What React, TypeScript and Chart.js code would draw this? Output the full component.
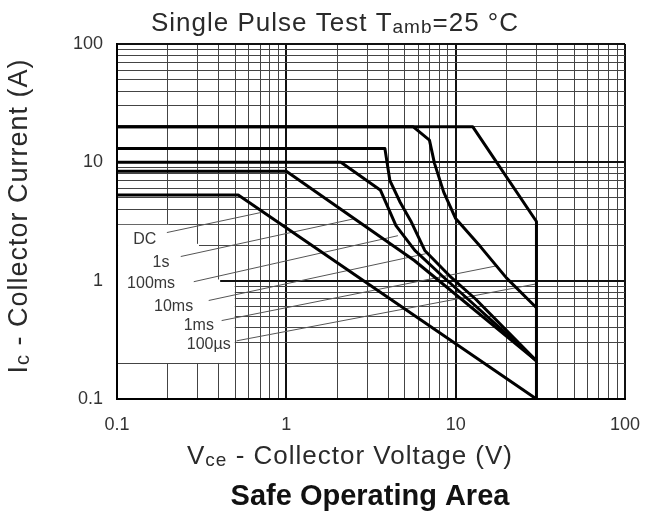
import React, { useEffect, useRef } from 'react';
import { Chart, registerables } from 'chart.js';

Chart.register(...registerables);

// ---- grid / tick values ----
const gridValues = [
  0.1, 0.2, 0.3, 0.4, 0.5, 0.6, 0.7, 0.8, 0.9,
  1, 2, 3, 4, 5, 6, 7, 8, 9,
  10, 20, 30, 40, 50, 60, 70, 80, 90,
  100,
];
const decadeValues = [0.1, 1, 10, 100];
const tickLabels = ['0.1', '1', '10', '100'];

// ---- SOA curves (Vce in V, Ic in A) ----
const v100us = [0.1, 12.6, 30, 30];
const i100us = [20, 20, 3.16, 0.1];

const v1ms = [0.1, 5.6, 7.0, 7.5, 8.5, 10, 14, 20, 30];
const i1ms = [20, 20, 15.4, 9.8, 5.6, 3.35, 1.94, 1.05, 0.59];

const v10ms = [0.1, 3.82, 4.09, 4.7, 5.43, 6.57, 9.2, 13.1, 30];
const i10ms = [13.1, 13.1, 7.0, 4.6, 3.2, 1.8, 1.1, 0.7, 0.21];

const v100ms = [0.1, 2.1, 3.6, 4.44, 5.74, 8.3, 11.8, 30];
const i100ms = [10, 10, 5.8, 2.92, 1.8, 1.1, 0.7, 0.21];

const v1s = [0.1, 1, 5.7, 30];
const i1s = [8.4, 8.4, 1.48, 0.21];

const vDC = [0.1, 0.52, 30];
const iDC = [5.3, 5.3, 0.1];

// ---- curve labels and leader lines ----
const labelTexts = ['DC', '1s', '100ms', '10ms', '1ms', '100µs'];
const labelV = [0.146, 0.182, 0.159, 0.216, 0.304, 0.348];
const labelI = [2.23, 1.42, 0.94, 0.6, 0.42, 0.29];
const leaderStartV = [0.197, 0.238, 0.284, 0.348, 0.415, 0.508];
const leaderStartI = [2.55, 1.6, 0.98, 0.68, 0.46, 0.31];
const leaderEndV = [0.71, 2.55, 4.56, 6.66, 17.7, 30];
const leaderEndI = [3.77, 3.35, 2.4, 1.69, 1.34, 0.94];

// ---- stepped blank area behind the labels (grid cut away): right V, top I ----
const blankRightV = [0.2, 0.3, 0.4, 0.5];
const blankTopI = [3, 2, 1, 0.9];
const blankBottomI = 0.2;

const FONT = '"Liberation Sans", Arial, Helvetica, sans-serif';

type Part = { t: string; sub?: boolean };

function drawRich(
  ctx: CanvasRenderingContext2D,
  parts: Part[],
  cx: number,
  y: number,
  size: number,
  subSize: number,
  subShift: number,
  weight = 'normal'
) {
  const widths = parts.map((p) => {
    ctx.font = `${weight} ${p.sub ? subSize : size}px ${FONT}`;
    return ctx.measureText(p.t).width;
  });
  const total = widths.reduce((a, b) => a + b, 0);
  let x = cx - total / 2;
  ctx.textAlign = 'left';
  parts.forEach((p, k) => {
    ctx.font = `${weight} ${p.sub ? subSize : size}px ${FONT}`;
    ctx.fillText(p.t, x, p.sub ? y + subShift : y);
    x += widths[k];
  });
}

const zip = (vs: number[], is: number[]) => vs.map((v, k) => ({ x: v, y: is[k] }));

const maskPlugin = {
  id: 'labelMask',
  beforeDatasetsDraw(chart: any) {
    const ctx: CanvasRenderingContext2D = chart.ctx;
    const xs = chart.scales.x;
    const ys = chart.scales.y;
    const left = chart.chartArea.left + 1.2;
    const bottom = ys.getPixelForValue(blankBottomI) - 0.6;
    ctx.save();
    ctx.fillStyle = '#fff';
    blankRightV.forEach((v, k) => {
      const last = k === blankRightV.length - 1;
      const right = xs.getPixelForValue(v) + (last ? -0.6 : 1.2);
      const top = ys.getPixelForValue(blankTopI[k]) + (k === 0 ? 0.6 : -1.2);
      ctx.fillRect(left, top, right - left, bottom - top);
    });
    ctx.restore();
  },
};

const textPlugin = {
  id: 'soaTexts',
  afterDraw(chart: any) {
    const ctx: CanvasRenderingContext2D = chart.ctx;
    const xs = chart.scales.x;
    const ys = chart.scales.y;
    ctx.save();
    ctx.fillStyle = '#2a2a2a';
    ctx.textBaseline = 'alphabetic';
    (ctx as any).letterSpacing = '1px';
    // title
    drawRich(ctx, [{ t: 'Single Pulse Test T' }, { t: 'amb', sub: true }, { t: '=25 °C' }], 335, 31, 26, 19, 2);
    // x title
    drawRich(ctx, [{ t: 'V' }, { t: 'ce', sub: true }, { t: ' - Collector Voltage (V)' }], 350, 464, 26, 19, 2);
    // y title
    ctx.save();
    ctx.translate(27, 216);
    ctx.rotate(-Math.PI / 2);
    drawRich(ctx, [{ t: 'I' }, { t: 'c', sub: true }, { t: ' - Collector Current (A)' }], 0, 0, 27, 20, 2);
    ctx.restore();
    (ctx as any).letterSpacing = '0px';
    // bottom caption
    ctx.fillStyle = '#111';
    drawRich(ctx, [{ t: 'Safe Operating Area' }], 370, 505, 29, 29, 0, 'bold');
    // curve labels
    ctx.fillStyle = '#383838';
    ctx.font = `16px ${FONT}`;
    ctx.textAlign = 'center';
    ctx.textBaseline = 'middle';
    labelTexts.forEach((t, k) => {
      ctx.fillText(t, xs.getPixelForValue(labelV[k]), ys.getPixelForValue(labelI[k]));
    });
    ctx.restore();
  },
};

export default function App() {
  const ref = useRef<HTMLCanvasElement | null>(null);

  useEffect(() => {
    if (!ref.current) return;
    const curveStyle = {
      borderColor: '#000',
      borderWidth: 3,
      pointRadius: 0,
      fill: false,
      tension: 0,
      borderJoinStyle: 'round',
    };
    const datasets: any[] = [
      { label: '100µs', data: zip(v100us, i100us), ...curveStyle },
      { label: '1ms', data: zip(v1ms, i1ms), ...curveStyle },
      { label: '10ms', data: zip(v10ms, i10ms), ...curveStyle },
      { label: '100ms', data: zip(v100ms, i100ms), ...curveStyle },
      { label: '1s', data: zip(v1s, i1s), ...curveStyle },
      { label: 'DC', data: zip(vDC, iDC), ...curveStyle },
    ];
    labelTexts.forEach((t, k) => {
      datasets.push({
        label: 'leader ' + t,
        data: [
          { x: leaderStartV[k], y: leaderStartI[k] },
          { x: leaderEndV[k], y: leaderEndI[k] },
        ],
        borderColor: '#555',
        borderWidth: 1,
        pointRadius: 0,
        fill: false,
      });
    });

    const gridColor = (c: any) =>
      c.tick && decadeValues.includes(c.tick.value) ? '#111' : '#444';
    const gridWidth = (c: any) =>
      c.tick && decadeValues.includes(c.tick.value) ? 2 : 1;
    const setTicks = (scale: any) => {
      scale.ticks = gridValues.map((v) => ({ value: v, major: decadeValues.includes(v) }));
    };
    const tickCb = (value: any) => {
      const k = decadeValues.indexOf(Number(value));
      return k >= 0 ? tickLabels[k] : '';
    };

    const chart = new Chart(ref.current, {
      type: 'line',
      data: { datasets },
      plugins: [maskPlugin, textPlugin],
      options: {
        responsive: false,
        animation: false,
        layout: { padding: { left: 0, right: 23, top: 44, bottom: 0 } },
        plugins: {
          legend: { display: false },
          tooltip: { enabled: false },
          title: { display: false },
        },
        scales: {
          x: {
            type: 'logarithmic',
            min: 0.1,
            max: 100,
            afterBuildTicks: setTicks,
            afterFit: (s: any) => {
              s.height = 118;
              s.paddingLeft = 0;
              s.paddingRight = 0;
            },
            grid: { color: gridColor, lineWidth: gridWidth, drawTicks: false },
            border: { display: true, color: '#000', width: 2 },
            ticks: {
              callback: tickCb,
              autoSkip: false,
              maxRotation: 0,
              padding: 15,
              color: '#333',
              font: { family: FONT, size: 18 },
            },
          },
          y: {
            type: 'logarithmic',
            min: 0.1,
            max: 100,
            afterBuildTicks: setTicks,
            afterFit: (s: any) => {
              s.width = 117;
              s.paddingTop = 0;
              s.paddingBottom = 0;
            },
            grid: { color: gridColor, lineWidth: gridWidth, drawTicks: false },
            border: { display: true, color: '#000', width: 2 },
            ticks: {
              callback: tickCb,
              autoSkip: false,
              padding: 14,
              color: '#333',
              font: { family: FONT, size: 18 },
            },
          },
        },
      } as any,
    });
    return () => chart.destroy();
  }, []);

  return (
    <div style={{ position: 'absolute', left: 0, top: 0, width: 648, height: 517, background: '#fff' }}>
      <canvas ref={ref} width={648} height={517} style={{ width: 648, height: 517, display: 'block' }} />
    </div>
  );
}
